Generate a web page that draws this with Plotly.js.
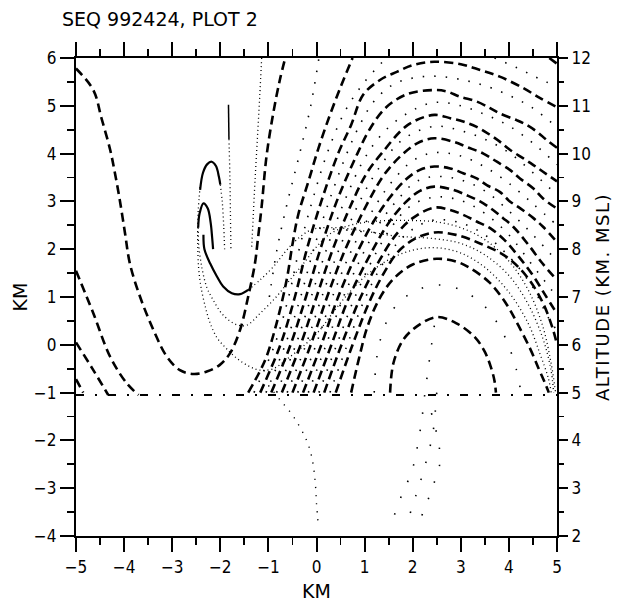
<!DOCTYPE html>
<html><head><meta charset="utf-8">
<script src="https://cdn.plot.ly/plotly-3.0.1.min.js"></script>
<style>html,body{margin:0;padding:0;background:#fff}#c{width:617px;height:602px}
text.y2title{letter-spacing:1.5px}</style>
</head><body><div id="c"></div>
<script>
// ---- axis ticks ----
const xTicks = [-5,-4,-3,-2,-1,0,1,2,3,4,5];
const yTicks = [-4,-3,-2,-1,0,1,2,3,4,5,6];
const altTicks = [2,3,4,5,6,7,8,9,10,11,12];

// ---- dashed curves ----
const U_X = [-5.0,-4.64,-4.47,-4.29,-4.19,-4.09,-3.98,-3.88,-3.67,-3.39,-3.11,-2.84,-2.56,-2.28,-2.01,-1.80,-1.59,-1.42,-1.28,-1.22,-1.14,-1.04,-0.90,-0.76,-0.65];
const U_Y = [5.78,5.33,4.74,4.08,3.59,3.03,2.33,1.70,1.01,0.31,-0.25,-0.53,-0.61,-0.56,-0.42,-0.18,0.31,1.01,1.70,2.2,2.9,3.94,4.84,5.55,6.0];
const LC1_X = [-5.0,-4.64,-4.29,-3.95,-3.70];
const LC1_Y = [1.55,0.66,-0.25,-0.80,-1.05];
const LC2_X = [-5.0,-4.64,-4.33];
const LC2_Y = [0.05,-0.53,-1.05];
const LC3_X = [-5.0,-4.85];
const LC3_Y = [-0.72,-1.0];
const L0_X = [-1.42,-1.20,-1.04,-0.83,-0.62,-0.50,-0.38,-0.17,0.04,0.28,0.52,0.75];
const L0_Y = [-1.0,-0.6,-0.25,0.45,1.36,2.1,2.72,3.41,4.11,4.81,5.44,6.0];
const L0R_X = [4.84,5.0];
const L0R_Y = [6.0,5.88];
const A1_X = [-1.17,-0.75,-0.45,-0.20,0.10,0.45,0.72,0.97,1.32,1.67,2.0,2.45,3.0,3.40,3.81,4.30,4.65,5.0];
const A1_Y = [-1.0,0.0,1.0,2.0,3.0,4.0,4.6,5.23,5.54,5.71,5.85,5.92,5.87,5.75,5.61,5.37,5.16,4.97];
const A2_X = [-0.94,-0.54,-0.22,0.08,0.42,0.85,1.1,1.45,1.9,2.45,2.71,2.98,3.33,3.61,3.81,4.16,4.37,4.58,4.79,5.0];
const A2_Y = [-1.0,0.0,1.0,2.0,3.0,4.0,4.5,4.97,5.25,5.33,5.30,5.19,5.09,4.95,4.84,4.70,4.60,4.46,4.28,4.12];
const A3_X = [-0.72,-0.33,0.0,0.34,0.75,1.05,1.35,1.9,2.45,2.78,3.05,3.33,3.61,3.81,4.02,4.30,4.51,4.71,5.0];
const A3_Y = [-1.0,0.0,1.0,2.0,3.0,3.6,4.0,4.6,4.81,4.74,4.67,4.56,4.39,4.25,4.08,3.90,3.76,3.62,3.42];
const A4_X = [-0.50,-0.12,0.22,0.60,1.08,1.4,1.75,2.1,2.45,2.84,3.12,3.47,3.75,4.02,4.23,4.51,4.71,5.0];
const A4_Y = [-1.0,0.0,1.0,2.0,3.0,3.55,3.95,4.22,4.32,4.25,4.14,4.0,3.83,3.66,3.48,3.27,3.06,2.85];
const A5_X = [-0.28,0.10,0.45,0.88,1.2,1.5,1.85,2.15,2.45,2.78,3.05,3.33,3.54,3.81,4.02,4.23,4.51,4.71,5.0];
const A5_Y = [-1.0,0.0,1.0,2.0,2.6,3.05,3.45,3.66,3.73,3.69,3.59,3.48,3.34,3.20,3.0,2.86,2.65,2.47,2.15];
const A6_X = [-0.06,0.31,0.68,1.15,1.5,1.85,2.15,2.45,2.84,3.12,3.40,3.67,3.88,4.09,4.4,4.7,5.0];
const A6_Y = [-1.0,0.0,1.0,1.95,2.55,2.98,3.22,3.31,3.24,3.13,3.0,2.82,2.65,2.47,2.1,1.7,1.35];
const A7_X = [0.16,0.52,0.92,1.3,1.65,2.0,2.45,2.78,3.05,3.33,3.61,3.9,4.2,4.5,4.75,5.0];
const A7_Y = [-1.0,0.0,1.0,1.75,2.3,2.65,2.87,2.82,2.72,2.58,2.44,2.2,1.85,1.45,1.05,0.65];
const A8_X = [0.40,0.75,1.1,1.4,1.7,2.05,2.45,2.9,3.40,3.95,4.37,4.71,4.92,5.0];
const A8_Y = [-1.0,0.0,0.9,1.5,1.95,2.22,2.35,2.3,2.12,1.84,1.43,0.87,0.31,0.0];
const A9_X = [0.72,0.88,1.05,1.3,1.6,2.0,2.5,2.91,3.2,3.6,3.95,4.2,4.45,4.62,4.75,4.83];
const A9_Y = [-1.0,-0.3,0.35,0.95,1.38,1.68,1.80,1.74,1.6,1.3,0.85,0.4,-0.1,-0.5,-0.8,-1.0];
const DOME_X = [1.53,1.6,1.8,2.08,2.5,2.91,3.3,3.5,3.62,3.7,3.73];
const DOME_Y = [-1.0,-0.38,0.1,0.38,0.58,0.45,0.15,-0.15,-0.45,-0.75,-1.0];
const BASE_X = [-5,5];
const BASE_Y = [-1.05,-1.05];

// ---- dotted arches (between dashed ones) ----
const DU0_X = [-0.98,-0.82,-0.6,-0.35,-0.12,0.05];
const DU0_Y = [1.0,2.0,3.0,4.0,5.0,6.0];
const D01_X = [-1.30,-0.87,-0.58,-0.36,-0.09,0.22,0.6,1.0,1.45];
const D01_Y = [-1.0,0.0,1.0,2.0,3.0,4.0,4.9,5.5,6.0];
const D01R_X = [3.7,4.2,4.6,5.0];
const D01R_Y = [6.0,5.78,5.58,5.4];
const D12_X = [-1.05,-0.65,-0.33,-0.06,0.26,0.63,0.9,1.2,1.6,2.0,2.45,3.0,3.5,4.0,4.5,5.0];
const D12_Y = [-1.0,0.0,1.0,2.0,3.0,4.0,4.6,5.1,5.45,5.58,5.62,5.55,5.42,5.22,4.95,4.55];
const D23_X = [-0.83,-0.43,-0.11,0.21,0.58,1.0,1.4,1.9,2.45,3.0,3.5,4.0,4.5,5.0];
const D23_Y = [-1.0,0.0,1.0,2.0,3.0,3.9,4.45,4.85,5.07,5.0,4.82,4.58,4.22,3.77];
const D34_X = [-0.61,-0.22,0.11,0.47,0.9,1.3,1.8,2.45,3.0,3.5,4.0,4.5,5.0];
const D34_Y = [-1.0,0.0,1.0,2.0,3.0,3.7,4.3,4.57,4.48,4.3,4.02,3.6,3.13];
const D45_X = [-0.39,-0.01,0.33,0.74,1.25,1.6,2.0,2.45,3.0,3.5,4.0,4.5,5.0];
const D45_Y = [-1.0,0.0,1.0,2.0,2.95,3.45,3.85,4.02,3.95,3.72,3.38,2.95,2.5];
const D56_X = [-0.17,0.2,0.56,1.0,1.35,1.7,2.05,2.45,3.0,3.5,4.0,4.5,5.0];
const D56_Y = [-1.0,0.0,1.0,1.97,2.6,3.05,3.4,3.52,3.45,3.22,2.8,2.3,1.75];
const D67_X = [0.05,0.42,0.8,1.2,1.55,1.95,2.45,3.0,3.5,4.0,4.5,5.0];
const D67_Y = [-1.0,0.0,1.0,1.85,2.45,2.9,3.09,3.02,2.75,2.3,1.65,1.0];
const D78_X = [0.28,0.64,1.0,1.35,1.7,2.05,2.45,3.0,3.5,4.0,4.5,4.8,5.0];
const D78_Y = [-1.0,0.0,0.95,1.65,2.15,2.45,2.61,2.55,2.3,1.85,1.2,0.6,0.3];
const D9D_X = [1.2,1.3,1.6,2.0,2.5,3.0,3.5,3.9,4.15,4.25];
const D9D_Y = [-1.0,0.0,0.75,1.1,1.25,1.15,0.8,0.2,-0.5,-1.0];

// ---- spiral features (left-centre) ----
const LOOP1_X = [-2.42,-2.36,-2.27,-2.18,-2.09,-2.03,-2.0];
const LOOP1_Y = [3.24,3.6,3.78,3.83,3.74,3.52,3.35];
const LOOP1R_X = [-2.0,-1.96,-1.93,-1.91];
const LOOP1R_Y = [3.35,3.0,2.5,2.0];
const LOOP2_X = [-2.46,-2.43,-2.35,-2.26,-2.2,-2.17,-2.15];
const LOOP2_Y = [2.45,2.75,2.96,2.85,2.55,2.25,2.0];
const SPIKE_X = [-2.35,-2.33,-2.21,-2.07,-1.94,-1.76,-1.59,-1.42];
const SPIKE_Y = [2.3,2.0,1.70,1.43,1.22,1.08,1.06,1.15];
const TRC_X = [-1.42,-1.17,-0.90,-0.62,-0.34,-0.07,0.4,1.0,1.6,2.45,3.0,3.5,4.0,4.4,4.7,4.87,4.93];
const TRC_Y = [1.15,1.36,1.63,1.98,2.26,2.42,2.45,2.38,2.28,2.22,2.12,1.88,1.45,0.85,0.15,-0.5,-1.0];
const TRD_X = [-2.46,-2.45,-2.38,-2.28,-2.15,-1.94,-1.66,-1.45,-1.17,-0.83,-0.55,-0.27,0.0,0.25,0.6,1.0,1.5,2.0,2.5,3.0,3.5,4.0,4.4,4.7,4.88,4.97];
const TRD_Y = [2.45,2.1,1.6,1.2,0.94,0.62,0.42,0.41,0.66,1.01,1.36,1.70,2.05,2.3,2.47,2.56,2.6,2.6,2.57,2.45,2.2,1.75,1.15,0.4,-0.4,-1.0];
const TRE_X = [-2.42,-2.46,-2.47,-2.45,-2.4,-2.3,-2.21,-2.07,-1.9,-1.66,-1.38,-1.17,-0.9,-0.55,-0.21,0.07,0.28,0.6,1.0,1.5,2.0,2.5,3.0,3.5,4.0,4.4,4.65,4.82,4.88];
const TRE_Y = [3.3,2.8,2.2,1.6,1.2,0.75,0.45,0.15,-0.05,-0.28,-0.46,-0.53,-0.5,-0.25,0.03,0.31,0.59,1.0,1.42,1.78,1.98,2.03,1.92,1.62,1.1,0.45,-0.2,-0.7,-1.0];
const VDENSE_X = [-1.83,-1.82];
const VDENSE_Y = [5.02,4.3];
const VDOT_X = [-1.82,-1.80,-1.79,-1.78];
const VDOT_Y = [4.3,3.5,2.8,2.0];
const DL_X = [-1.14,-1.18,-1.23,-1.28,-1.32,-1.35];
const DL_Y = [6.0,5.2,4.3,3.4,2.6,2.0];

// ---- dotted lines below the -1 km level ----
const B1_X = [-1.0,-0.76,-0.48,-0.21,-0.10,-0.03,0.0,0.04];
const B1_Y = [-0.85,-1.15,-1.50,-1.99,-2.34,-2.83,-3.32,-3.81];
const S1_X = [2.45,2.35,2.22,2.19,2.01,1.91,1.80,1.60,1.46];
const S1_Y = [0.4,-0.3,-1.29,-1.57,-2.55,-2.83,-3.07,-3.60,-3.84];
const S2_X = [2.5,2.43,2.36,2.19,2.08,1.87];
const S2_Y = [-1.0,-1.78,-2.13,-2.76,-3.11,-3.77];
const S3_X = [2.39,2.57,2.39,2.15];
const S3_Y = [-1.43,-2.41,-3.04,-3.67];

// ---- styles ----
const K = '#000';
const DASH = {color:K, width:2.6, dash:'9px,5px', shape:'spline', smoothing:1};
const SOLID = {color:K, width:2.2, shape:'spline', smoothing:1};
const DOTARC = {color:K, width:1.6, dash:'1.5px,10px', shape:'spline', smoothing:1};
const DOTFINE = {color:K, width:1.3, dash:'1px,3px', shape:'spline', smoothing:1};
const DOTSPARSE = {color:K, width:1.6, dash:'1.5px,16px', shape:'spline', smoothing:1};
const DASHDOT = {color:K, width:2.2, dash:'8px,11px,2px,11px'};

function tr(x, y, line){ return {x:x, y:y, type:'scatter', mode:'lines', line:line, hoverinfo:'skip', showlegend:false}; }

const traces = [
  tr(U_X,U_Y,DASH), tr(LC1_X,LC1_Y,DASH), tr(LC2_X,LC2_Y,DASH), tr(LC3_X,LC3_Y,DASH),
  tr(L0_X,L0_Y,DASH), tr(L0R_X,L0R_Y,DASH),
  tr(A1_X,A1_Y,DASH), tr(A2_X,A2_Y,DASH), tr(A3_X,A3_Y,DASH), tr(A4_X,A4_Y,DASH),
  tr(A5_X,A5_Y,DASH), tr(A6_X,A6_Y,DASH), tr(A7_X,A7_Y,DASH), tr(A8_X,A8_Y,DASH),
  tr(A9_X,A9_Y,DASH), tr(DOME_X,DOME_Y,DASH), tr(BASE_X,BASE_Y,DASHDOT),
  tr(DU0_X,DU0_Y,DOTARC), tr(D01_X,D01_Y,DOTARC), tr(D01R_X,D01R_Y,DOTARC),
  tr(D12_X,D12_Y,DOTARC), tr(D23_X,D23_Y,DOTARC), tr(D34_X,D34_Y,DOTARC),
  tr(D45_X,D45_Y,DOTARC), tr(D56_X,D56_Y,DOTARC), tr(D67_X,D67_Y,DOTARC),
  tr(D78_X,D78_Y,DOTARC), tr(D9D_X,D9D_Y,DOTSPARSE),
  tr(LOOP1_X,LOOP1_Y,SOLID), tr(LOOP1R_X,LOOP1R_Y,DOTFINE), tr(LOOP2_X,LOOP2_Y,SOLID),
  tr(SPIKE_X,SPIKE_Y,SOLID), tr(TRC_X,TRC_Y,DOTFINE), tr(TRD_X,TRD_Y,DOTFINE), tr(TRE_X,TRE_Y,DOTFINE),
  tr(VDENSE_X,VDENSE_Y,{color:K,width:1.5}), tr(VDOT_X,VDOT_Y,DOTFINE), tr(DL_X,DL_Y,DOTFINE),
  tr(B1_X,B1_Y,{color:K,width:1.4,dash:'1.2px,7px',shape:'spline'}),
  tr(S1_X,S1_Y,DOTSPARSE), tr(S2_X,S2_Y,DOTSPARSE), tr(S3_X,S3_Y,DOTSPARSE),
  {x:[xTicks[0], xTicks[xTicks.length-1]], y:[altTicks[0], altTicks[altTicks.length-1]], yaxis:'y2', type:'scatter', mode:'none', hoverinfo:'skip', showlegend:false}
];

const FONT = 'DejaVu Sans Condensed, DejaVu Sans, sans-serif';
const TFONT = 'DejaVu Sans, sans-serif';
const axisBase = {
  showgrid:false, zeroline:false, showline:true, linecolor:K, linewidth:2.2,
  ticks:'outside', ticklen:14, tickwidth:2, tickcolor:K,
  tickfont:{family:FONT, size:17, color:K},
  minor:{dtick:0.5, ticks:'outside', ticklen:7, tickwidth:1.8, tickcolor:K, showgrid:false}
};

const layout = {
  width:617, height:602,
  margin:{l:76, r:60, t:58, b:66},
  paper_bgcolor:'#fff', plot_bgcolor:'#fff',
  font:{family:TFONT, color:K},
  title:{text:'SEQ 992424, PLOT 2', font:{family:TFONT, size:19, color:K}, xref:'container', x:0.1005, xanchor:'left', yref:'container', y:0.968, yanchor:'middle'},
  xaxis:Object.assign({}, axisBase, {range:[-5,5], tickvals:xTicks, mirror:'ticks',
    title:{text:'KM', font:{family:TFONT, size:19, color:K}, standoff:10}}),
  yaxis:Object.assign({}, axisBase, {range:[-4,6], tickvals:yTicks,
    title:{text:'KM', font:{family:TFONT, size:19, color:K}, standoff:1}}),
  yaxis2:Object.assign({}, axisBase, {range:[2,12], tickvals:altTicks, overlaying:'y', side:'right', anchor:'x',
    ticklen:9, minor:{dtick:0.5, ticks:'outside', ticklen:5, tickwidth:1.8, tickcolor:K, showgrid:false},
    title:{text:'ALTITUDE (KM. MSL)', font:{family:TFONT, size:18, color:K}, standoff:6}})
};

Plotly.newPlot('c', traces, layout, {staticPlot:true, displayModeBar:false});
</script></body></html>
